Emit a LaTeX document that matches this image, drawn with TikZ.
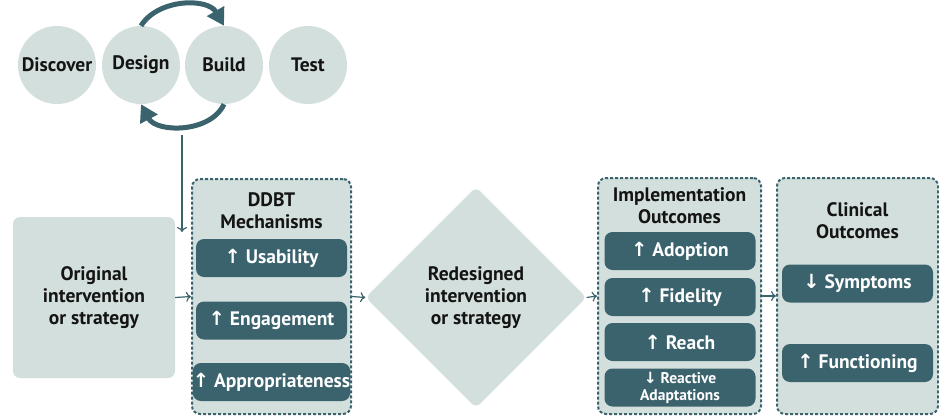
\documentclass[tikz,border=0pt]{standalone}
\usepackage{fontspec}
\setmainfont{PT Sans}
\newfontfamily\arwfont{DejaVu Sans}
\usetikzlibrary{shapes.geometric,arrows.meta}
\definecolor{paleteal}{HTML}{D3DFDC}
\definecolor{darkteal}{HTML}{3B636E}
\definecolor{inktext}{HTML}{141414}
\newcommand{\upmark}{{\arwfont\char"2191}}
\newcommand{\downmark}{{\arwfont\char"2193}}
\begin{document}
\begin{tikzpicture}[x=1pt,y=-1pt,
    stage/.style={circle,fill=paleteal,minimum size=78pt,inner sep=0pt,
      font=\bfseries\fontsize{19.5}{22}\selectfont,text=inktext},
    panel/.style={draw=darkteal,line width=2pt,dash pattern=on 3pt off 2pt,
      fill=paleteal,rounded corners=8pt,inner sep=0pt},
    title/.style={align=center,font=\bfseries\fontsize{19.5}{22}\selectfont,text=inktext},
    pill/.style={fill=darkteal,rounded corners=8pt,minimum width=151pt,
      minimum height=38pt,inner sep=0pt,text=white,align=center,
      font=\bfseries\fontsize{19.5}{22}\selectfont},
    cyc/.style={darkteal,line width=5pt,-{Triangle[length=17pt,width=19pt]}},
    link/.style={darkteal,line width=1.2pt,-{To[length=5pt,width=10pt]}}]
  \useasboundingbox (0,0) rectangle (939,415);
  %cycle
  \node[stage] (discover) at (57,65) {Discover};
  \node[stage] (design) at (141,65) {Design};
  \node[stage] (build) at (224,65) {Build};
  \node[stage] (test) at (308,65) {Test};
  \draw[cyc] (design.north) to[out=58,in=120] (build.north);
  \draw[cyc] (build.south) to[out=-115,in=-62] (design.south);
  %start
  \node[fill=paleteal,rounded corners=7pt,minimum width=162pt,minimum height=161pt,
    align=center,inner sep=0pt,font=\bfseries\fontsize{19.5}{22}\selectfont,text=inktext]
    (orig) at (94,297.5) {Original\\intervention\\or strategy};
  %mechanisms
  \node[panel,minimum width=159pt,minimum height=235pt] (ddbt) at (271.5,296.5) {};
  \node[title] (ddbttitle) at (271.5,210.5) {DDBT\\Mechanisms};
  \node[pill] (usability) at (271.5,258) {\upmark\ Usability};
  \node[pill] (engagement) at (271.5,320.5) {\upmark\ Engagement};
  \node[pill] (approp) at (271.5,382) {\upmark\ Appropriateness};
  %redesign
  \node[diamond,aspect=1,fill=paleteal,rounded corners=6pt,minimum size=221pt,
    inner sep=0pt,align=center,font=\bfseries\fontsize{19.5}{22}\selectfont,text=inktext]
    (redesign) at (476,297.5) {Redesigned\\intervention\\or strategy};
  %implementation
  \node[panel,minimum width=163pt,minimum height=236pt] (impl) at (679.5,296) {};
  \node[title] (impltitle) at (679.5,206) {Implementation\\Outcomes};
  \node[pill] (adoption) at (680,251) {\upmark\ Adoption};
  \node[pill] (fidelity) at (680,297) {\upmark\ Fidelity};
  \node[pill] (reach) at (680,342) {\upmark\ Reach};
  \node[pill,font=\bfseries\fontsize{15.5}{17}\selectfont] (reactive) at (680,387.5)
    {\downmark\ Reactive\\Adaptations};
  %clinical
  \node[panel,minimum width=161pt,minimum height=236pt] (clin) at (857.5,296) {};
  \node[title] (clintitle) at (857.5,221) {Clinical\\Outcomes};
  \node[pill] (symptoms) at (857.5,283.5) {\downmark\ Symptoms};
  \node[pill] (functioning) at (857.5,363) {\upmark\ Functioning};
  %links
  \coordinate (fbtop) at (182,135);
  \coordinate (fbend) at (182,232);
  \draw[link] (fbtop) -- (fbend);
  \draw[link] (orig.east) -- (ddbt.west);
  \draw[link] (ddbt.east) -- (redesign.west);
  \draw[link] (redesign.east) -- (impl.west);
  \draw[link] (impl.east) -- (clin.west);
\end{tikzpicture}
\end{document}
